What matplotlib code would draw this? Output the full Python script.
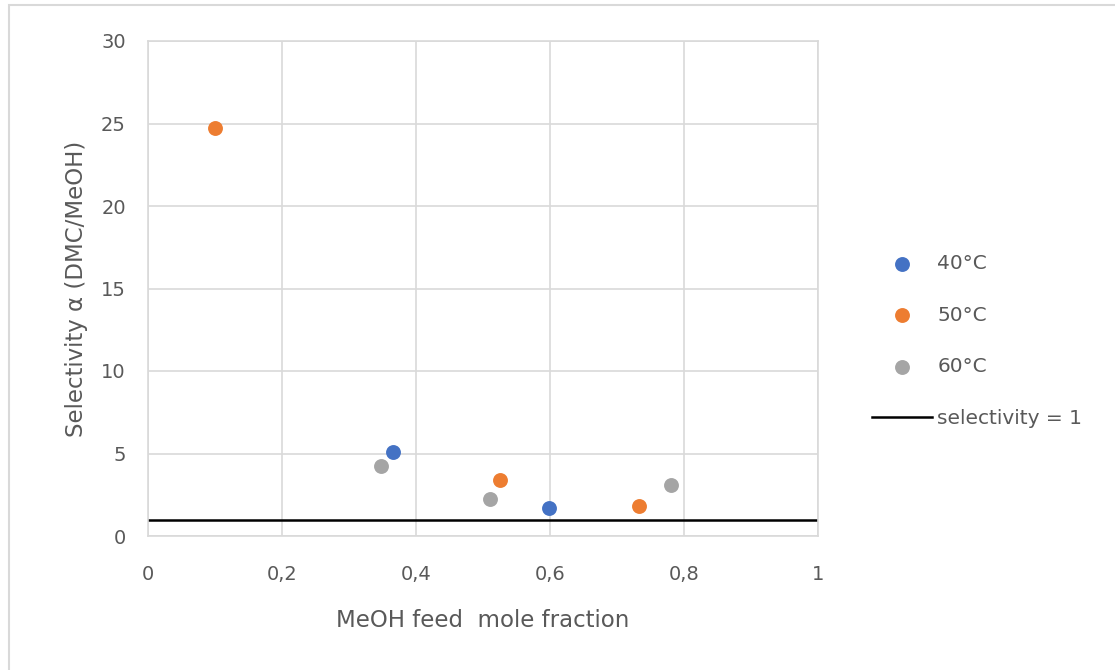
import matplotlib
matplotlib.use("Agg")
import matplotlib.pyplot as plt
from matplotlib.patches import Rectangle

# data
x_40 = [0.365, 0.598]
y_40 = [5.12, 1.68]
x_50 = [0.100, 0.525, 0.733]
y_50 = [24.74, 3.38, 1.80]
x_60 = [0.348, 0.511, 0.781]
y_60 = [4.24, 2.25, 3.11]
labels = ["40°C", "50°C", "60°C"]
colors = ["#4472C4", "#ED7D31", "#A5A5A5"]
x_ticks = [0, 0.2, 0.4, 0.6, 0.8, 1]
x_ticklabels = ["0", "0,2", "0,4", "0,6", "0,8", "1"]
y_ticks = [0, 5, 10, 15, 20, 25, 30]
sel_level = 1

plt.rcParams['font.family'] = ['DejaVu Sans']
txt = "#595959"
grid = "#D9D9D9"

fig = plt.figure(figsize=(11.15, 6.7), dpi=100)
# light chart-area border (only top and left visible in the crop)
fig.patches.append(Rectangle((9/1115, -0.1), 1.2, 1.1 - 5/670,
                             transform=fig.transFigure, fill=False,
                             edgecolor=grid, linewidth=1.5))
ax = fig.add_axes([148/1115, 1 - 536/670, 670/1115, 495/670])

for xs, ys, lab, c in zip([x_40, x_50, x_60], [y_40, y_50, y_60], labels, colors):
    ax.scatter(xs, ys, s=115, color=c, label=lab, zorder=3, linewidths=0)
ax.axhline(sel_level, color="black", linewidth=1.8, label="selectivity = 1", zorder=2)

ax.set_xlim(0, 1)
ax.set_ylim(0, 30)
ax.set_xticks(x_ticks)
ax.set_xticklabels(x_ticklabels)
ax.set_yticks(y_ticks)
ax.grid(True, color=grid, linewidth=1.2)
ax.set_axisbelow(True)
ax.tick_params(length=0, colors=txt, labelsize=14)
ax.tick_params(axis="x", pad=21)
ax.tick_params(axis="y", pad=16)
for s in ax.spines.values():
    s.set_color(grid)
    s.set_linewidth(1.2)

ax.set_xlabel("MeOH feed  mole fraction", color=txt, fontsize=16.5, labelpad=18)
ax.set_ylabel("Selectivity \u03b1 (DMC/MeOH)", color=txt, fontsize=16.5, labelpad=9)

fig.legend(loc="center left", bbox_to_anchor=(872/1115, 1 - 341/670), frameon=False,
           fontsize=14.5, labelcolor=txt, handlelength=3.0, handletextpad=0.25,
           labelspacing=1.62, borderpad=0, borderaxespad=0)

fig.savefig("out.png", dpi=100)
